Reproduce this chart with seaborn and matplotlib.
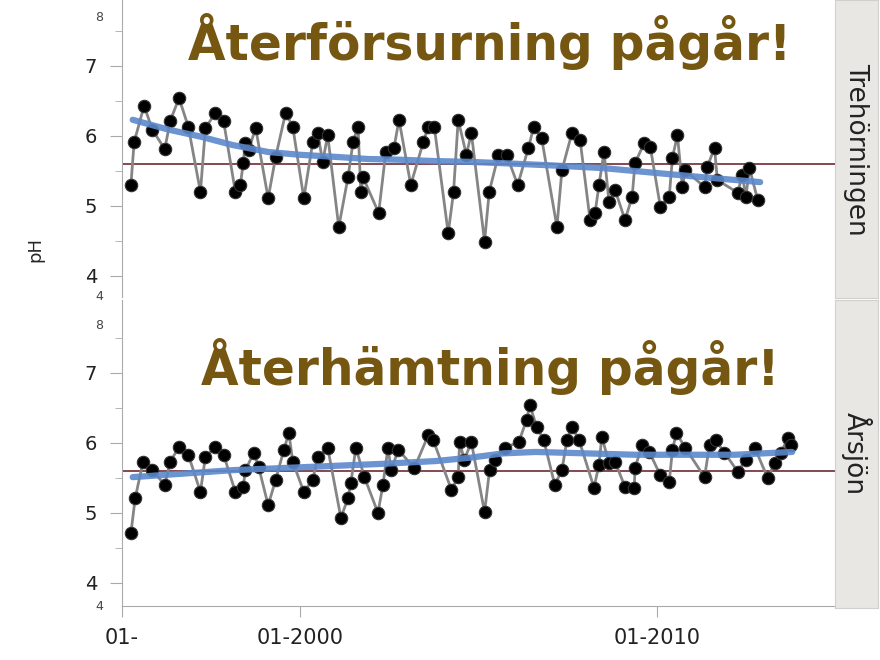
import numpy as np
import pandas as pd
import matplotlib.pyplot as plt
import seaborn as sns

# Trehörningen
treh_year = [1995.25, 1995.34, 1995.62, 1995.85, 1996.20, 1996.35, 1996.60, 1996.86,
             1997.20, 1997.34, 1997.62, 1997.85, 1998.18, 1998.32, 1998.40, 1998.46,
             1998.55, 1998.75, 1999.10, 1999.31, 1999.59, 1999.79, 2000.10, 2000.35,
             2000.49, 2000.63, 2000.77, 2001.08, 2001.34, 2001.48, 2001.62, 2001.70,
             2001.76, 2002.20, 2002.40, 2002.63, 2002.77, 2003.10, 2003.45, 2003.59,
             2003.76, 2004.15, 2004.30, 2004.43, 2004.66, 2004.80, 2005.17, 2005.30,
             2005.56, 2005.79, 2006.10, 2006.40, 2006.55, 2006.77, 2007.20, 2007.34,
             2007.62, 2007.85, 2008.13, 2008.27, 2008.38, 2008.52, 2008.66, 2008.83,
             2009.11, 2009.31, 2009.39, 2009.65, 2009.82, 2010.10, 2010.35, 2010.44,
             2010.58, 2010.72, 2010.80, 2011.34, 2011.42, 2011.62, 2011.70, 2012.27,
             2012.40, 2012.50, 2012.60, 2012.83]
treh_ph = [5.30, 5.91, 6.43, 6.09, 5.81, 6.21, 6.54, 6.13,
           5.20, 6.11, 6.33, 6.21, 5.20, 5.30, 5.61, 5.90,
           5.80, 6.11, 5.11, 5.70, 6.33, 6.13, 5.11, 5.91,
           6.04, 5.63, 6.01, 4.70, 5.41, 5.91, 6.13, 5.20,
           5.41, 4.90, 5.77, 5.83, 6.23, 5.30, 5.91, 6.13,
           6.13, 4.61, 5.20, 6.23, 5.73, 6.04, 4.49, 5.20,
           5.73, 5.73, 5.30, 5.83, 6.13, 5.97, 4.70, 5.51,
           6.04, 5.94, 4.80, 4.90, 5.30, 5.77, 5.06, 5.23,
           4.80, 5.13, 5.61, 5.90, 5.84, 4.99, 5.13, 5.69,
           6.01, 5.27, 5.51, 5.27, 5.56, 5.83, 5.37, 5.19,
           5.44, 5.13, 5.54, 5.09]
# smoothed trend
treh_trend_year = [1995.3, 1996.3, 1997.2, 1998.1, 1999.1, 2000.0, 2001.0, 2001.9,
                   2002.8, 2003.8, 2004.7, 2005.7, 2007.0, 2008.5, 2010.0, 2011.3, 2012.9]
treh_trend_ph = [6.23, 6.09, 5.99, 5.87, 5.77, 5.73, 5.70, 5.67,
                 5.66, 5.64, 5.63, 5.61, 5.58, 5.54, 5.47, 5.41, 5.34]

# Årsjön
arsj_year = [1995.25, 1995.37, 1995.59, 1995.85, 1996.20, 1996.35, 1996.60, 1996.86,
             1997.20, 1997.34, 1997.62, 1997.85, 1998.18, 1998.40, 1998.46, 1998.70,
             1998.83, 1999.10, 1999.31, 1999.54, 1999.68, 1999.79, 2000.10, 2000.35,
             2000.49, 2000.77, 2001.14, 2001.34, 2001.42, 2001.56, 2001.80, 2002.18,
             2002.32, 2002.46, 2002.55, 2002.75, 2003.20, 2003.59, 2003.73, 2004.24,
             2004.43, 2004.47, 2004.60, 2004.80, 2005.17, 2005.31, 2005.45, 2005.73,
             2006.13, 2006.35, 2006.44, 2006.63, 2006.83, 2007.14, 2007.34, 2007.48,
             2007.62, 2007.82, 2008.24, 2008.38, 2008.46, 2008.66, 2008.83, 2009.11,
             2009.37, 2009.39, 2009.59, 2009.79, 2010.10, 2010.35, 2010.44, 2010.55,
             2010.80, 2011.34, 2011.48, 2011.65, 2011.90, 2012.27, 2012.50, 2012.75,
             2013.11, 2013.31, 2013.48, 2013.68, 2013.76]
arsj_ph = [4.71, 5.21, 5.73, 5.61, 5.40, 5.73, 5.94, 5.83,
           5.30, 5.80, 5.94, 5.83, 5.30, 5.37, 5.61, 5.86,
           5.66, 5.11, 5.47, 5.90, 6.14, 5.73, 5.30, 5.47,
           5.80, 5.93, 4.93, 5.21, 5.43, 5.93, 5.51, 5.00,
           5.40, 5.93, 5.61, 5.90, 5.64, 6.11, 6.04, 5.33,
           5.51, 6.01, 5.76, 6.01, 5.01, 5.61, 5.76, 5.93,
           6.01, 6.33, 6.54, 6.23, 6.04, 5.40, 5.61, 6.04,
           6.23, 6.04, 5.36, 5.69, 6.09, 5.71, 5.73, 5.37,
           5.36, 5.64, 5.97, 5.87, 5.54, 5.44, 5.90, 6.14,
           5.93, 5.51, 5.97, 6.04, 5.86, 5.59, 5.76, 5.93,
           5.50, 5.71, 5.86, 6.07, 5.97]
arsj_trend_year = [1995.3, 1996.7, 1998.1, 1999.5, 2000.9, 2002.3, 2003.8, 2004.8,
                   2005.7, 2006.6, 2008.0, 2009.4, 2010.8, 2012.2, 2013.0, 2013.8]
arsj_trend_ph = [5.51, 5.56, 5.61, 5.64, 5.67, 5.70, 5.74, 5.79,
                 5.85, 5.87, 5.85, 5.83, 5.83, 5.83, 5.85, 5.87]

lakes = ["Trehörningen", "Årsjön"]
titles = ["Återförsurning pågår!", "Återhämtning pågår!"]
ref_ph = 5.6
xtick_pos = [1995, 2000, 2010]
xtick_lab = ["01-", "01-2000", "01-2010"]

sns.set_style("white")
plt.rcParams["font.family"] = ["DejaVu Sans"]

fig = plt.figure(figsize=(8.8, 6.6), dpi=100)
ax1 = fig.add_axes([122/880, 1-297/660, 713/880, 297/660])
ax2 = fig.add_axes([122/880, 1-606/660, 713/880, 306/660])

data = [pd.DataFrame({"year": treh_year, "pH": treh_ph}),
        pd.DataFrame({"year": arsj_year, "pH": arsj_ph})]
trends = [pd.DataFrame({"year": treh_trend_year, "pH": treh_trend_ph}),
          pd.DataFrame({"year": arsj_trend_year, "pH": arsj_trend_ph})]
ylims = [(3.70, 7.94), (3.67, 8.04)]
title_base = [60, 385]
small8 = [0.94, 0.918]

for i, ax in enumerate([ax1, ax2]):
    df = data[i]
    ax.axhline(ref_ph, color="#7b3a40", lw=1.3, zorder=1)
    sns.lineplot(data=df, x="year", y="pH", ax=ax, color="#858585", lw=2,
                 sort=False, estimator=None, zorder=2)
    sns.scatterplot(data=df, x="year", y="pH", ax=ax, color="black", s=80,
                    edgecolor="#333333", linewidth=0.8, zorder=3)
    sns.lineplot(data=trends[i], x="year", y="pH", ax=ax, color="#5b88cc", lw=4.5,
                 alpha=0.9, estimator=None, zorder=4, solid_capstyle="round")
    ax.set_xlim(1995, 2015)
    ax.set_ylim(*ylims[i])
    ax.set_yticks([4, 5, 6, 7])
    ax.set_yticks([4.5, 5.5, 6.5, 7.5], minor=True)
    ax.tick_params(axis="y", which="major", length=9, color="#aaaaaa", labelsize=14,
                   left=True, pad=9, labelcolor="#222222")
    ax.tick_params(axis="y", which="minor", length=5, color="#aaaaaa", left=True)
    ax.set_xlabel("")
    ax.set_ylabel("")
    for s in ["top", "right"]:
        ax.spines[s].set_visible(False)
    ax.spines["left"].set_color("#aaaaaa")
    ax.spines["bottom"].set_color("#aaaaaa")
    ax.text(-0.032, small8[i], "8", transform=ax.transAxes, fontsize=9,
            ha="center", va="center", color="#444444")
    ax.text(-0.032, 0.0, "4", transform=ax.transAxes, fontsize=9,
            ha="center", va="center", color="#444444")
    fig.text(490/880, 1-title_base[i]/660, titles[i], fontsize=35, fontweight="bold",
             color="#765712", ha="center", va="baseline")

ax1.spines["bottom"].set_visible(False)
ax1.set_xticks([])
ax2.set_xticks(xtick_pos)
ax2.set_xticklabels(xtick_lab)
ax2.tick_params(axis="x", length=8, color="#aaaaaa", labelsize=15, bottom=True,
                pad=8, labelcolor="#222222")

fig.text(35/880, 1-250/660, "pH", rotation=90, fontsize=13, ha="center", va="center")

# facet strips
for i, (top, bot) in enumerate([(0, 298), (300, 608)]):
    sax = fig.add_axes([835/880, 1-bot/660, 43/880, (bot-top)/660])
    sax.set_facecolor("#e9e7e3")
    sax.set_xticks([])
    sax.set_yticks([])
    for s in sax.spines.values():
        s.set_color("#d2d0cc")
    sax.text(0.5, 0.5, lakes[i], rotation=270, fontsize=19, ha="center",
             va="center", transform=sax.transAxes, color="#222222")

fig.savefig("out.png", dpi=100)
